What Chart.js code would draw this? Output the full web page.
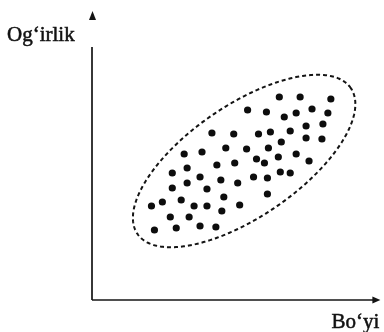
<!DOCTYPE html>
<html>
<head>
<meta charset="utf-8">
<script src="https://cdn.jsdelivr.net/npm/chart.js@4/dist/chart.umd.min.js"></script>
<style>
    html, body { margin: 0; padding: 0; background: #fff; }
    canvas { display: block; }
</style>
</head>
<body>
<canvas id="scatterChart" width="384" height="332"></canvas>
<script>
// Height / weight sample (arbitrary units, origin at the axes corner)
const boyi = [
    189, 210, 241, 157, 176, 194, 206, 222, 238, 216,
    233, 200, 180, 168, 143, 121, 216, 232, 191, 178,
    156, 135, 111, 93, 206, 188, 166, 174, 219, 144,
    126, 96, 81, 190, 200, 163, 177, 109, 130, 147,
    96, 81, 116, 177, 133, 90, 71, 60, 103, 116,
    149, 131, 79, 98, 109, 125, 85, 63
];
const ogirlik = [
    203, 203, 201, 190, 188, 183, 187, 191, 187, 174,
    176, 169, 168, 166, 166, 167, 162, 161, 158, 152,
    151, 152, 148, 146, 146, 143, 141, 137, 139, 137,
    135, 132, 127, 128, 127, 123, 122, 123, 120, 117,
    117, 112, 111, 106, 103, 100, 98, 94, 94, 94,
    95, 89, 83, 83, 74, 73, 72, 70
];

// Axis ranges and the dashed envelope around the cloud
const xRange = [0, 291];
const yRange = [0, 289];
const envelope = { cx: 153.5, cy: 139, a: 130, b: 56, angle: 34 };

const xLabel = 'Bo\u2018yi';
const yLabel = 'Og\u2018irlik';

const points = boyi.map((x, i) => ({ x: x, y: ogirlik[i] }));

// Axes with arrows, dashed ellipse and axis captions
const sketchPlugin = {
    id: 'sketch',
    beforeDatasetsDraw(chart) {
        const ctx = chart.ctx;
        const xs = chart.scales.x;
        const ys = chart.scales.y;
        const ox = xs.getPixelForValue(0);
        const oy = ys.getPixelForValue(0);
        const xEnd = xs.getPixelForValue(xRange[1]);
        const yEnd = ys.getPixelForValue(yRange[1]);

        ctx.save();
        ctx.strokeStyle = '#141414';
        ctx.fillStyle = '#141414';
        ctx.lineWidth = 1.7;

        // vertical axis (line stops short of its arrowhead)
        ctx.beginPath();
        ctx.moveTo(ox, oy);
        ctx.lineTo(ox, yEnd + 36);
        ctx.stroke();
        ctx.beginPath();
        ctx.moveTo(ox + 0.5, yEnd);
        ctx.lineTo(ox - 3, yEnd + 9);
        ctx.lineTo(ox + 4, yEnd + 9);
        ctx.closePath();
        ctx.fill();

        // horizontal axis
        ctx.beginPath();
        ctx.moveTo(ox, oy);
        ctx.lineTo(xEnd - 6, oy);
        ctx.stroke();
        ctx.beginPath();
        ctx.moveTo(xEnd, oy);
        ctx.lineTo(xEnd - 8, oy - 3.5);
        ctx.lineTo(xEnd - 8, oy + 3.5);
        ctx.closePath();
        ctx.fill();

        // dashed ellipse
        const rad = envelope.angle * Math.PI / 180;
        ctx.setLineDash([4, 3]);
        ctx.lineWidth = 2;
        ctx.beginPath();
        for (let k = 0; k <= 360; k++) {
            const t = k * Math.PI / 180;
            const u = envelope.a * Math.cos(t);
            const v = envelope.b * Math.sin(t);
            const px = xs.getPixelForValue(envelope.cx + u * Math.cos(rad) - v * Math.sin(rad));
            const py = ys.getPixelForValue(envelope.cy + u * Math.sin(rad) + v * Math.cos(rad));
            if (k === 0) ctx.moveTo(px, py); else ctx.lineTo(px, py);
        }
        ctx.closePath();
        ctx.stroke();
        ctx.setLineDash([]);

        // captions (thin stroke gives the heavier printed look)
        ctx.font = '21px "Liberation Serif", "Times New Roman", serif';
        ctx.fillStyle = '#111';
        ctx.strokeStyle = '#111';
        ctx.lineWidth = 0.5;
        ctx.textBaseline = 'alphabetic';
        ctx.textAlign = 'left';
        ctx.fillText(yLabel, 7, yEnd + 30);
        ctx.strokeText(yLabel, 7, yEnd + 30);
        ctx.textAlign = 'right';
        ctx.fillText(xLabel, xEnd - 1, oy + 28);
        ctx.strokeText(xLabel, xEnd - 1, oy + 28);
        ctx.restore();
    }
};

const chart = new Chart(document.getElementById('scatterChart').getContext('2d'), {
    type: 'scatter',
    data: {
        datasets: [{
            data: points,
            backgroundColor: '#0d0d0d',
            borderColor: '#0d0d0d',
            borderWidth: 0,
            pointRadius: 3.6,
            pointHoverRadius: 3.6
        }]
    },
    options: {
        responsive: false,
        animation: false,
        layout: {
            padding: { left: 92, right: 1, top: 11, bottom: 32 }
        },
        scales: {
            x: { type: 'linear', min: xRange[0], max: xRange[1], display: false },
            y: { type: 'linear', min: yRange[0], max: yRange[1], display: false }
        },
        plugins: {
            legend: { display: false },
            tooltip: { enabled: false }
        }
    },
    plugins: [sketchPlugin]
});
</script>
</body>
</html>
